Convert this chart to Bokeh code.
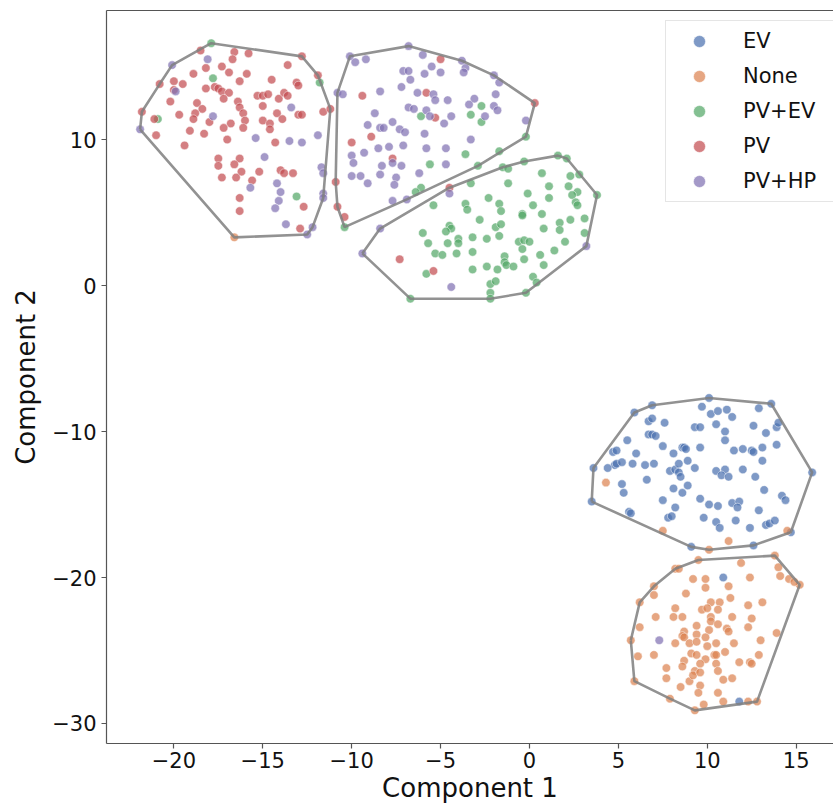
from bokeh.plotting import figure
from bokeh.models import Range1d, LinearAxis, FixedTicker, Legend, LegendItem
from bokeh.embed import file_html
from bokeh.resources import INLINE

# ---------------- data ----------------
labels = ["EV", "None", "PV+EV", "PV", "PV+HP"]
colors = ["#4C72B0", "#DD8452", "#55A868", "#C44E52", "#8172B3"]

x_ticks = [-20, -15, -10, -5, 0, 5, 10, 15]
x_tick_labels = ["\u221220", "\u221215", "\u221210", "\u22125", "0", "5", "10", "15"]
y_ticks = [-30, -20, -10, 0, 10]
y_tick_labels = ["\u221230", "\u221220", "\u221210", "0", "10"]

# cluster 1 (PV dominated)
c1_PV_x = [-18.5, -16.6, -15.8, -16.7, -13.6, -18.2, -17.3, -16.9, -18.9, -15.9, -14.5, -16.3, -20.0, -19.5,
           -20.0, -18.2, -17.7, -17.5, -17.3, -16.9, -17.2, -13.1, -13.0, -11.9, -15.3, -15.0, -14.7, -14.1,
           -13.8, -13.6, -20.2, -18.7, -18.4, -18.8, -19.7, -18.9, -16.4, -16.3, -16.1, -16.0, -15.0, -14.2,
           -13.9, -13.0, -12.8, -11.6, -11.2, -15.0, -14.6, -14.6, -21.8, -21.1, -20.8, -16.1, -16.8, -17.2,
           -18.0, -19.1, -18.3, -21.0, -19.4, -17.0, -14.3, -17.5, -16.3, -17.5, -16.6, -16.2, -15.2, -17.3,
           -16.5, -15.6, -14.0, -13.8, -13.3, -16.3, -16.3, -12.7, -12.9, -12.8]
c1_PV_y = [16.1, 16.0, 15.9, 15.5, 15.1, 14.9, 15.0, 14.6, 14.5, 14.5, 14.1, 14.0, 14.0, 13.8,
           13.4, 13.5, 13.6, 13.5, 13.3, 13.2, 12.8, 13.9, 13.7, 14.4, 13.0, 13.0, 13.1, 12.8,
           13.2, 13.0, 12.6, 12.5, 12.1, 11.8, 11.7, 11.4, 12.6, 12.2, 11.8, 11.3, 12.3, 11.8,
           11.4, 11.7, 11.7, 11.9, 12.1, 11.3, 11.1, 10.7, 11.9, 11.4, 13.8, 10.8, 11.1, 10.8,
           11.2, 10.6, 10.4, 10.3, 9.6, 10.0, 9.8, 8.7, 8.7, 8.2, 8.3, 7.8, 7.8, 7.4,
           7.4, 7.2, 7.9, 7.7, 7.7, 6.0, 5.1, 5.4, 3.9, 15.7]
c1_HP_x = [-20.1, -18.1, -19.9, -17.8, -13.4, -15.4, -13.5, -12.8, -11.9, -14.9, -14.2, -14.0, -14.1, -14.3,
           -15.7, -11.7, -11.6, -11.6, -11.6, -13.7, -12.2, -12.5, -21.9]
c1_HP_y = [15.1, 15.5, 13.3, 11.6, 12.2, 10.1, 9.9, 9.8, 10.3, 8.8, 7.0, 6.4, 5.8, 5.3,
           6.7, 8.1, 7.7, 6.3, 6.0, 4.2, 4.0, 3.5, 10.7]
c1_EVPV_x = [-17.9, -17.8, -11.8, -20.9, -13.1]
c1_EVPV_y = [16.6, 14.2, 13.9, 11.4, 6.1]
c1_None_x = [-16.6]
c1_None_y = [3.3]

# cluster 2 (PV+HP dominated)
c2_HP_x = [-10.1, -9.8, -9.2, -6.8, -6.0, -3.8, -3.6, -3.7, -2.0, -1.7, -1.9, -3.1, -3.4, -2.0, -1.8, -2.5,
           -7.1, -6.8, -5.9, -5.5, -5.0, -6.7, -7.2, -6.3, -5.4, -5.3, -4.6, -8.4, -10.8, -10.5, -6.8, -6.5,
           -5.8, -5.6, -4.4, -4.8, -8.7, -9.1, -8.4, -8.2, -7.7, -7.3, -7.0, -5.9, -3.3, -0.2, -10.0, -9.9,
           -9.3, -8.5, -7.9, -7.1, -5.8, -4.7, -7.7, -8.3, -7.2, -4.7, -10.0, -9.5, -9.1, -8.4, -7.5, -7.6,
           -6.2, -7.7, -6.9]
c2_HP_y = [15.7, 15.3, 15.5, 16.4, 15.8, 15.4, 14.9, 14.6, 14.4, 13.9, 13.1, 12.8, 12.4, 12.3, 12.0, 11.6,
           14.7, 14.7, 14.5, 15.0, 14.6, 14.1, 13.6, 13.2, 13.1, 12.7, 12.7, 13.3, 13.2, 13.1, 12.2, 12.1,
           12.0, 11.6, 11.6, 11.1, 11.8, 11.0, 10.8, 10.8, 11.2, 10.7, 10.5, 10.4, 10.0, 11.3, 8.9, 8.4,
           9.1, 9.4, 9.5, 9.6, 9.4, 9.4, 8.4, 8.2, 8.2, 8.3, 7.5, 7.5, 7.0, 7.6, 7.4, 6.9,
           7.7, 5.8, 5.9]
c2_PV_x = [-5.0, -9.4, -5.8, -5.3, -8.9, -10.0, -7.7, 0.3, -10.9, -10.8, -10.4]
c2_PV_y = [15.5, 13.0, 13.2, 11.5, 10.2, 9.8, 8.7, 12.5, 7.1, 5.4, 4.7]
c2_EVPV_x = [-6.1, -3.3, -2.7, -2.7, -3.6, -5.6, -6.1, -6.4, -0.2, -1.7, -10.4, -2.9]
c2_EVPV_y = [11.6, 11.7, 12.3, 11.2, 9.0, 8.3, 6.7, 6.4, 10.2, 9.2, 4.0, 8.2]

# cluster 3 (PV+EV dominated)
c3_EVPV_x = [-3.3, -1.5, -1.2, -0.3, 1.6, 2.1, 3.8, 2.8, 2.3, 0.7, -1.2, 1.1, 2.2, 2.7, 2.4, 1.1, -0.1,
             -2.3, -3.6, -3.5, -1.7, -1.6, 0.2, 2.6, 2.7, -5.4, -0.4, -0.4, 0.7, -2.8, 3.1, 2.3, 1.7, 0.8,
             1.7, -4.5, -4.4, -4.7, -1.9, -1.6, -6.0, -4.0, -3.2, -2.4, -1.7, -5.7, -4.6, -4.0, -0.6, -0.3,
             0.0, 2.0, 3.1, -5.3, -4.9, -4.1, -3.2, -0.4, 1.4, 0.6, -1.4, -1.4, -0.3, -1.3, -0.9, -2.4,
             -1.8, -3.2, 0.8, -5.8, 0.2, 0.4, -2.2, -1.9, -2.2, -2.2, -0.2, -6.7]
c3_EVPV_y = [7.0, 8.1, 8.0, 8.5, 8.9, 8.7, 6.2, 7.6, 7.5, 7.7, 7.0, 6.8, 6.8, 6.4, 6.2, 6.0, 6.3,
             6.0, 5.6, 5.2, 5.6, 5.1, 5.5, 5.7, 5.5, 5.5, 4.9, 4.8, 4.9, 4.5, 4.6, 4.5, 4.3, 3.9,
             3.8, 4.1, 3.9, 3.7, 4.0, 4.2, 3.6, 3.2, 3.3, 3.2, 3.4, 2.9, 2.9, 2.9, 3.0, 3.1,
             3.0, 3.0, 3.6, 2.2, 2.1, 2.2, 2.3, 2.5, 2.4, 2.1, 2.0, 1.6, 1.8, 1.4, 1.3, 1.3,
             1.1, 1.1, 1.4, 0.8, 0.6, 0.2, 0.1, 0.3, -0.5, -0.9, -0.5, -0.9]
c3_HP_x = [-9.4, -8.4, -4.5, 3.2, -4.4]
c3_HP_y = [2.2, 3.9, 6.3, 2.7, -0.1]
c3_PV_x = [-4.5, -7.3, -5.4]
c3_PV_y = [6.7, 1.8, 1.0]

# cluster 4 (EV dominated)
c4_EV_x = [3.6, 3.5, 5.9, 6.9, 10.1, 13.6, 15.9, 14.7, 12.6, 9.1, 9.7, 10.2, 10.6, 11.1, 11.4, 12.9, 7.6,
           6.7, 6.9, 9.3, 9.6, 10.5, 11.0, 11.0, 12.6, 13.3, 13.9, 14.0, 5.5, 6.7, 6.9, 7.1, 7.5, 8.6,
           8.7, 8.8, 9.6, 11.5, 12.0, 12.5, 12.6, 13.1, 13.9, 4.7, 4.9, 6.0, 13.1, 4.8, 4.9, 5.2, 5.8,
           6.5, 7.0, 4.4, 7.9, 8.2, 8.4, 8.4, 8.5, 8.9, 9.3, 8.1, 10.5, 11.0, 10.8, 11.2, 12.0, 12.7,
           6.6, 5.2, 5.3, 8.1, 8.6, 8.9, 7.5, 8.2, 7.8, 8.0, 9.6, 10.1, 10.6, 11.4, 11.8, 11.7, 12.9,
           13.2, 14.2, 14.4, 5.6, 5.7, 9.8, 10.5, 10.7, 11.6, 12.4, 13.3, 13.5, 13.8]
c4_EV_y = [-12.5, -14.8, -8.7, -8.2, -7.7, -8.1, -12.8, -16.9, -17.8, -17.9, -8.3, -8.8, -8.6, -8.5, -9.0,
           -8.4, -9.4, -9.3, -9.1, -9.7, -9.7, -9.5, -10.0, -10.6, -9.6, -10.1, -9.7, -9.4, -10.6, -10.2,
           -10.2, -10.3, -11.0, -11.1, -11.1, -11.2, -11.1, -11.3, -11.2, -11.3, -11.4, -11.1, -10.9, -11.4,
           -11.3, -11.5, -12.0, -12.3, -12.2, -12.1, -12.2, -12.3, -12.2, -12.5, -12.7, -12.6, -12.2, -12.8,
           -13.1, -12.0, -12.5, -11.5, -12.7, -12.6, -13.0, -13.1, -12.6, -13.1, -13.3, -13.6, -14.2, -13.9,
           -14.2, -13.7, -14.7, -15.2, -15.9, -15.8, -14.6, -15.0, -15.1, -14.9, -14.8, -15.2, -15.4, -14.0,
           -14.4, -14.7, -15.5, -15.6, -15.9, -16.2, -16.6, -16.1, -16.6, -16.4, -16.3, -16.1]
c4_None_x = [4.3, 7.5, 11.2, 10.1, 14.5]
c4_None_y = [-13.5, -16.8, -17.5, -18.1, -16.8]

# cluster 5 (None dominated)
c5_None_x = [9.5, 13.8, 15.2, 12.8, 9.3, 5.9, 5.7, 6.2, 7.0, 8.2, 11.9, 8.4, 14.0, 14.1, 14.6, 14.9, 9.2,
             9.9, 12.4, 9.9, 11.2, 8.8, 7.0, 11.3, 10.2, 10.7, 8.2, 9.7, 10.0, 10.6, 12.3, 13.1, 7.1,
             8.1, 8.6, 10.2, 11.4, 12.5, 6.2, 10.2, 9.4, 10.6, 11.1, 11.2, 12.3, 8.7, 9.4, 10.1, 8.6,
             8.7, 9.9, 8.2, 9.0, 9.4, 10.0, 10.5, 11.5, 13.0, 13.9, 6.1, 7.0, 9.1, 9.4, 9.9, 10.4, 10.5,
             11.0, 12.9, 8.7, 9.6, 10.5, 11.8, 12.4, 12.5, 7.7, 8.6, 9.3, 10.6, 7.7, 9.0, 9.2, 9.6, 10.9,
             11.4, 9.6, 8.5, 9.5, 10.6, 7.9, 10.9, 12.3, 9.8]
c5_None_y = [-18.8, -18.5, -20.5, -28.5, -29.1, -27.1, -24.3, -21.7, -20.6, -19.4, -19.0, -19.4, -19.3,
             -19.9, -20.1, -20.3, -20.1, -20.1, -20.0, -20.7, -20.6, -21.1, -21.2, -21.4, -21.7, -21.7,
             -22.1, -22.2, -22.1, -22.2, -21.9, -21.7, -22.7, -22.7, -22.7, -22.7, -22.7, -22.8, -23.4,
             -23.0, -23.3, -23.2, -23.5, -23.7, -23.4, -23.7, -23.9, -23.6, -24.0, -24.1, -24.1, -24.5,
             -24.5, -24.4, -24.7, -24.5, -24.5, -24.3, -23.8, -25.4, -25.3, -25.2, -25.3, -25.6, -25.3,
             -25.3, -25.1, -25.3, -25.7, -25.9, -25.9, -25.8, -25.8, -25.9, -26.2, -26.1, -26.4, -26.4,
             -26.9, -27.1, -26.7, -26.5, -27.0, -26.9, -27.4, -27.5, -27.9, -27.9, -28.3, -28.5, -28.5,
             -28.7]
c5_EV_x = [10.9, 11.8]
c5_EV_y = [-20.0, -28.5]
c5_HP_x = [7.3]
c5_HP_y = [-24.3]

clusters = [
    {"EV": ([], []), "None": (c1_None_x, c1_None_y), "PV+EV": (c1_EVPV_x, c1_EVPV_y),
     "PV": (c1_PV_x, c1_PV_y), "PV+HP": (c1_HP_x, c1_HP_y)},
    {"PV+EV": (c2_EVPV_x, c2_EVPV_y), "PV": (c2_PV_x, c2_PV_y), "PV+HP": (c2_HP_x, c2_HP_y)},
    {"PV+EV": (c3_EVPV_x, c3_EVPV_y), "PV": (c3_PV_x, c3_PV_y), "PV+HP": (c3_HP_x, c3_HP_y)},
    {"EV": (c4_EV_x, c4_EV_y), "None": (c4_None_x, c4_None_y)},
    {"EV": (c5_EV_x, c5_EV_y), "None": (c5_None_x, c5_None_y), "PV+HP": (c5_HP_x, c5_HP_y)},
]


def convex_hull(points):
    pts = sorted(set(points))
    if len(pts) <= 2:
        return pts

    def cross(o, a, b):
        return (a[0] - o[0]) * (b[1] - o[1]) - (a[1] - o[1]) * (b[0] - o[0])

    lower = []
    for pt in pts:
        while len(lower) >= 2 and cross(lower[-2], lower[-1], pt) <= 0:
            lower.pop()
        lower.append(pt)
    upper = []
    for pt in reversed(pts):
        while len(upper) >= 2 and cross(upper[-2], upper[-1], pt) <= 0:
            upper.pop()
        upper.append(pt)
    return lower[:-1] + upper[:-1]


# ---------------- figure ----------------
FONT = "DejaVu Sans"
p = figure(width=833, height=807, output_backend="svg", toolbar_location=None,
           x_range=Range1d(-23.79, 17.1), y_range=Range1d(-31.37, 18.84),
           min_border_left=106, min_border_right=0, min_border_top=10, min_border_bottom=64)
p.outline_line_color = None
p.grid.visible = False
p.background_fill_color = "white"
p.border_fill_color = "white"

# points per label (legend order)
legend_items = []
for lab, col in zip(labels, colors):
    xs, ys = [], []
    for cl in clusters:
        if lab in cl:
            xs += list(cl[lab][0])
            ys += list(cl[lab][1])
    r = p.scatter(xs, ys, size=8.5, fill_color=col, fill_alpha=0.72,
                  line_color="white", line_width=0.6, line_alpha=0.8)
    legend_items.append(LegendItem(label=lab, renderers=[r]))

# convex hulls
for cl in clusters:
    pts = []
    for lab in cl:
        pts += list(zip(cl[lab][0], cl[lab][1]))
    hull = convex_hull(pts)
    hx = [h[0] for h in hull] + [hull[0][0]]
    hy = [h[1] for h in hull] + [hull[0][1]]
    p.line(hx, hy, line_color="#7f7f7f", line_width=2.6, line_alpha=0.85)

# axes styling
spine = "#555555"
for ax in (p.xaxis[0], p.yaxis[0]):
    ax.axis_line_color = spine
    ax.axis_line_width = 1.2
    ax.major_tick_line_color = spine
    ax.major_tick_line_width = 1.2
    ax.major_tick_out = 5
    ax.major_tick_in = 0
    ax.minor_tick_line_color = None
    ax.major_label_text_font = FONT
    ax.major_label_text_font_size = "21px"
    ax.major_label_text_color = "#111111"
    ax.axis_label_text_font = FONT
    ax.axis_label_text_font_size = "26px"
    ax.axis_label_text_font_style = "normal"
    ax.axis_label_text_color = "#111111"

p.xaxis.ticker = FixedTicker(ticks=x_ticks)
p.xaxis.major_label_overrides = dict(zip(x_ticks, x_tick_labels))
p.yaxis.ticker = FixedTicker(ticks=y_ticks)
p.yaxis.major_label_overrides = dict(zip(y_ticks, y_tick_labels))
p.xaxis.axis_label = "Component 1"
p.yaxis.axis_label = "Component 2"
p.xaxis.major_label_standoff = 3
p.xaxis.axis_label_standoff = 2
p.yaxis.major_label_standoff = 5
p.yaxis.axis_label_standoff = 8

top_axis = LinearAxis(ticker=FixedTicker(ticks=[]), axis_line_color=spine, axis_line_width=1.2,
                      major_tick_line_color=None, minor_tick_line_color=None)
p.add_layout(top_axis, "above")

legend = Legend(items=legend_items, location=(559, 541), padding=5, spacing=5,
                glyph_width=56, glyph_height=30, label_standoff=16, label_width=85,
                label_text_font=FONT, label_text_font_size="21px", label_text_color="#111111",
                border_line_color="#cccccc", border_line_width=1.2,
                background_fill_color="white", background_fill_alpha=0.85, margin=0)
p.add_layout(legend, "center")

open("out.html", "w").write(file_html(p, INLINE))
